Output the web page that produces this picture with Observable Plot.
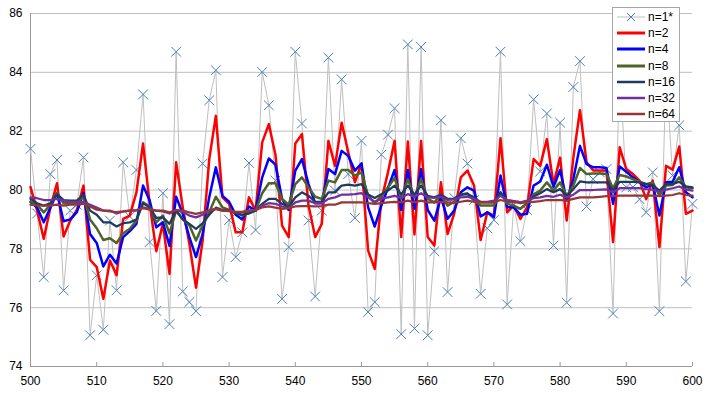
<!DOCTYPE html>
<html>
<head>
<meta charset="utf-8">
<script src="https://cdn.jsdelivr.net/npm/d3@7"></script>
<script src="https://cdn.jsdelivr.net/npm/@observablehq/plot@0.6"></script>
<style>
  body { margin: 0; background: #fff; }
  #wrap { position: relative; width: 721px; height: 394px; font-family: "Liberation Sans", Arial, sans-serif; }
  #legend { position: absolute; left: 612px; top: 7px; width: 66px; height: 112px; border: 1px solid #a6a6a6; background: #fff; padding-top: 1px; box-sizing: content-box; }
  .row { height: 16.2px; display: flex; align-items: center; font-size: 12px; color: #000; }
  .row svg { margin-left: 4px; margin-right: 3px; }
</style>
</head>
<body>
<div id="wrap"></div>
<script>
const xStart = 500;
const xTicks = [500, 510, 520, 530, 540, 550, 560, 570, 580, 590, 600];
const yTicks = [74, 76, 78, 80, 82, 84, 86];
const seriesNames = ["n=1*", "n=2", "n=4", "n=8", "n=16", "n=32", "n=64"];
const seriesColors = ["#bfbfbf", "#ff0000", "#0000ff", "#4f6228", "#1f3a5f", "#7030a0", "#953735"];

const n1 = [81.4,79.2,77.04,80.54,81.02,76.59,79.3,79.5,81.11,75.06,
77.1,75.25,78.96,76.59,80.94,79.1,80.68,83.25,78.23,75.89,
79.89,75.44,84.7,76.55,76.19,75.88,80.9,83.05,84.07,77.04,
78.98,77.72,78.56,80.92,78.64,84.01,82.88,80.32,76.3,78.06,
84.7,82.26,78.96,76.38,79.3,84.5,79.98,83.76,80.54,79.05,
81.67,75.85,76.19,81.2,81.88,82.78,75.1,84.95,75.29,84.86,
75.06,77.92,82.37,76.53,79.73,81.76,80.9,79.66,76.47,78.7,
78.98,84.7,76.11,79.5,78.26,79.32,83.08,80.63,82.6,78.11,
82.29,76.17,83.5,84.38,79.44,80.37,80.6,80.71,75.8,84.2,
80.09,80.1,79.69,79.24,80.6,75.88,84.0,80.49,82.2,76.89,79.53];

const n2 = [80.1,79.3,78.34,79.4,80.23,78.42,78.96,79.32,80.15,77.63,
77.38,76.3,77.6,77.1,79.02,79.13,79.92,81.58,79.53,77.92,
78.85,77.15,80.94,79.41,78.17,76.68,78.28,81.05,82.52,79.75,
79.53,78.56,78.56,79.75,79.3,81.62,82.24,81.2,78.79,78.4,
81.58,81.9,79.47,78.4,78.85,81.67,80.82,82.29,81.28,80.26,
80.9,77.94,77.32,79.66,80.6,81.67,78.4,81.65,78.49,81.67,
78.4,78.11,80.26,78.5,79.2,80.43,80.66,80.15,78.3,79.24,
79.13,81.76,79.24,79.47,79.02,79.41,81.05,80.82,81.73,80.2,
81.1,78.96,81.1,82.71,80.94,80.66,80.66,80.66,78.23,81.45,
80.71,80.54,80.32,79.69,80.32,78.06,80.82,80.69,81.48,79.19,79.3];

const n4 = [79.6,79.4,78.9,79.4,79.9,78.94,79.0,79.25,79.9,78.5,
78.2,77.4,77.8,77.5,78.4,78.6,78.85,80.15,79.64,78.73,
78.9,78.1,79.77,79.19,78.4,77.72,78.5,79.75,80.77,79.8,
79.6,79.16,79.0,79.44,79.3,80.43,81.07,80.86,79.7,79.32,
80.66,81.05,80.2,79.55,79.55,80.71,80.54,81.33,81.16,80.66,
80.9,79.41,78.76,79.47,80.07,80.68,79.32,80.68,79.36,80.71,
79.32,78.96,79.75,79.02,79.3,79.92,80.09,79.98,79.1,79.24,
79.07,80.49,79.41,79.41,79.16,79.19,80.15,80.29,80.86,80.11,
80.68,79.64,80.37,81.5,80.88,80.77,80.77,80.75,79.53,80.8,
80.62,80.43,80.26,80.09,80.2,79.13,80.26,80.28,80.77,79.92,79.75];

const n8 = [79.6,79.5,79.24,79.5,79.9,79.55,79.55,79.55,79.8,79.0,
78.7,78.3,78.36,78.2,78.53,78.68,78.96,79.58,79.44,78.9,
79.13,78.53,79.3,79.0,78.8,78.28,78.8,79.24,79.77,79.41,
79.32,79.24,79.13,79.24,79.3,79.89,80.23,80.23,79.7,79.5,
80.2,80.43,80.09,79.77,79.7,80.32,80.26,80.68,80.68,80.49,
80.6,79.8,79.55,79.8,80.09,80.41,79.7,80.37,79.75,80.37,
79.7,79.58,79.84,79.47,79.6,79.84,79.89,79.64,79.47,79.47,
79.47,79.92,79.53,79.47,79.36,79.55,79.85,79.98,80.26,79.98,
80.26,79.8,80.15,80.75,80.54,80.56,80.56,80.54,80.06,80.51,
80.46,80.37,80.28,80.2,80.26,79.81,80.15,80.17,80.43,80.09,80.06];

const n16 = [79.7,79.55,79.47,79.55,79.86,79.66,79.64,79.64,79.84,79.3,
79.16,78.9,78.9,78.76,78.87,78.9,79.0,79.55,79.41,79.05,
79.07,78.85,79.3,79.0,78.85,78.68,78.87,79.16,79.4,79.32,
79.3,79.2,79.16,79.2,79.3,79.53,79.7,79.7,79.53,79.42,
79.75,79.92,79.8,79.6,79.6,79.92,79.92,80.15,80.18,80.15,
80.2,79.85,79.73,79.86,79.98,80.15,79.86,80.15,79.84,80.15,
79.8,79.75,79.84,79.7,79.7,79.84,79.86,79.75,79.58,79.58,
79.58,79.92,79.64,79.62,79.55,79.6,79.78,79.89,80.03,79.92,
80.03,79.8,80.03,80.29,80.26,80.26,80.26,80.26,80.0,80.28,
80.28,80.28,80.26,80.2,80.17,79.98,80.2,80.2,80.28,80.12,80.09];

const n32 = [79.75,79.72,79.66,79.66,79.7,79.64,79.6,79.6,79.6,79.5,
79.4,79.3,79.3,79.2,79.27,79.3,79.3,79.41,79.36,79.3,
79.27,79.2,79.32,79.25,79.13,79.07,79.16,79.3,79.36,79.3,
79.28,79.25,79.25,79.3,79.32,79.47,79.55,79.53,79.44,79.38,
79.58,79.64,79.64,79.55,79.55,79.7,79.75,79.84,79.84,79.86,
79.89,79.75,79.6,79.7,79.75,79.8,79.73,79.86,79.77,79.89,
79.75,79.73,79.77,79.66,79.68,79.75,79.77,79.7,79.6,79.6,
79.64,79.8,79.66,79.62,79.58,79.64,79.72,79.75,79.8,79.77,
79.84,79.75,79.84,80.0,80.0,80.0,80.01,80.02,79.92,80.06,
80.06,80.06,80.06,80.03,80.01,79.94,80.01,80.06,80.12,80.01,79.98];

const n64 = [79.5,79.48,79.47,79.47,79.5,79.47,79.5,79.5,79.53,79.44,
79.33,79.3,79.27,79.25,79.27,79.3,79.32,79.38,79.33,79.3,
79.3,79.24,79.32,79.3,79.24,79.19,79.24,79.3,79.36,79.3,
79.29,79.26,79.26,79.3,79.32,79.41,79.44,79.4,79.36,79.38,
79.44,79.45,79.45,79.44,79.45,79.5,79.5,79.58,79.58,79.58,
79.58,79.55,79.53,79.55,79.58,79.6,79.58,79.64,79.58,79.64,
79.58,79.58,79.6,79.58,79.56,79.6,79.64,79.6,79.58,79.58,
79.58,79.66,79.6,79.58,79.58,79.58,79.6,79.62,79.66,79.66,
79.66,79.64,79.7,79.75,79.75,79.75,79.77,79.79,79.79,79.81,
79.81,79.81,79.81,79.81,79.81,79.79,79.81,79.83,79.89,79.83,79.81];

const allSeries = [n1, n2, n4, n8, n16, n32, n64];
const widths = [1, 2.5, 2.5, 2.5, 2.25, 2.25, 2.25];

const toRows = (arr, name) => arr.map((v, i) => ({x: xStart + i, y: v, s: name}));

const lineMarks = allSeries.map((arr, k) =>
  Plot.line(toRows(arr, seriesNames[k]), {x: "x", y: "y", stroke: seriesColors[k], strokeWidth: widths[k], strokeLinejoin: "round"})
);

const chart = Plot.plot({
  width: 721,
  height: 394,
  marginLeft: 30,
  marginRight: 29,
  marginTop: 13,
  marginBottom: 28,
  x: {domain: [500, 600]},
  y: {domain: [74, 86]},
  style: {fontFamily: "'Liberation Sans', Arial, sans-serif", fontSize: "12px", color: "#000", background: "#fff", overflow: "visible"},
  marks: [
    Plot.gridY(yTicks, {stroke: "#bfbfbf", strokeOpacity: 1}),
    Plot.axisY(yTicks, {tickSize: 0, tickPadding: 8, label: null}),
    Plot.axisX(xTicks, {tickSize: 0, tickPadding: 10, label: null}),
    Plot.axisX(xTicks, {tickSize: 4, dy: -4, tickFormat: () => "", label: null, stroke: "#999"}),
    Plot.ruleX([500], {stroke: "#999"}),
    Plot.ruleY([74], {stroke: "#999"}),
    lineMarks[0],
    Plot.dot(toRows(n1, seriesNames[0]), {x: "x", y: "y", symbol: "times", r: 4.5, stroke: "#4a7ebb", strokeWidth: 1}),
    ...lineMarks.slice(1)
  ]
});

const wrap = document.getElementById("wrap");
wrap.appendChild(chart);

const legend = document.createElement("div");
legend.id = "legend";
seriesNames.forEach((name, k) => {
  const row = document.createElement("div");
  row.className = "row";
  const w = k === 0 ? 1 : (k < 4 ? 3 : 2.5);
  let svg = `<svg width="28" height="12"><line x1="0" y1="6" x2="28" y2="6" stroke="${seriesColors[k]}" stroke-width="${w}"/>`;
  if (k === 0) svg += `<path d="M10,2L18,10M18,2L10,10" stroke="#4a7ebb" stroke-width="1" fill="none"/>`;
  svg += `</svg>`;
  row.innerHTML = svg + `<span>${name}</span>`;
  legend.appendChild(row);
});
wrap.appendChild(legend);
</script>
</body>
</html>
